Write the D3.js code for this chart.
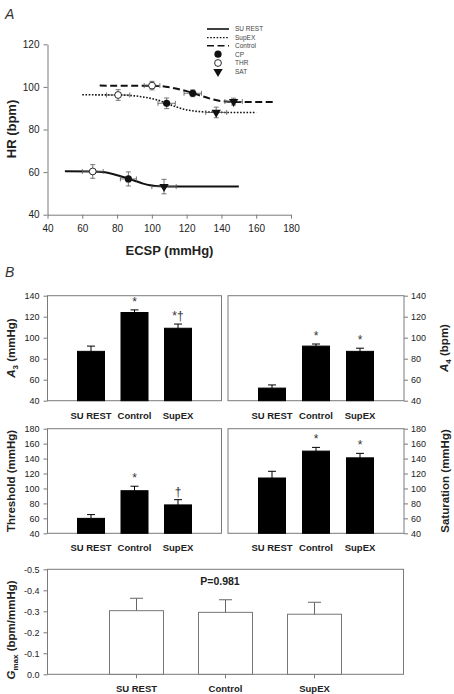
<!DOCTYPE html>
<html><head><meta charset="utf-8">
<script src="https://cdn.jsdelivr.net/npm/d3@7"></script>
<style>body{margin:0;background:#fff} svg{display:block;font-family:"Liberation Sans",Arial,sans-serif}</style>
</head><body><svg id="c" width="454" height="694"></svg>
<script>
// ---------- DATA ----------
const hrTicks = [40, 60, 80, 100, 120];
const ecspTicks = [40, 60, 80, 100, 120, 140, 160, 180];

// fitted curves (ECSP, HR)
const curveSuRestX = [50, 66, 72, 78, 83, 87, 91, 95, 99, 105, 115, 150];
const curveSuRestY = [60.4, 60.3, 60.0, 59.0, 57.8, 56.8, 55.7, 54.6, 53.8, 53.3, 53.2, 53.2];
const curveSupExX = [60, 80, 90, 97, 103, 108.5, 114, 119, 125, 132, 145, 160];
const curveSupExY = [96.3, 96.2, 95.8, 95.0, 93.9, 92.3, 90.6, 89.4, 88.6, 88.2, 88.0, 88.0];
const curveControlX = [70, 100, 108, 115, 120, 124, 128, 133, 138, 143, 150, 170];
const curveControlY = [100.6, 100.5, 100.1, 99.0, 98.0, 97.0, 95.9, 94.6, 93.6, 93.1, 92.9, 92.9];

// points: THR, CP, SAT
const pointTypes = ["THR", "CP", "SAT"];
const suRestPtX = [66, 86.5, 107];   const suRestPtY = [60.3, 56.8, 53.2];
const suRestXErr = [6, 4.6, 7];       const suRestYErr = [3.2, 3.3, 3.4];
const supExPtX = [80.6, 108.5, 137];  const supExPtY = [96.2, 92.3, 88.0];
const supExXErr = [6.7, 5, 6];        const supExYErr = [2.5, 2.5, 2.5];
const controlPtX = [100.1, 123.5, 147]; const controlPtY = [100.6, 97.0, 93.1];
const controlXErr = [4.5, 5, 5];      const controlYErr = [2, 1.6, 1.6];

const legendLabels = ["SU REST", "SupEX", "Control", "CP", "THR", "SAT"];

const groups = ["SU REST", "Control", "SupEX"];
const a3Values = [87, 124, 109];       const a3Err = [5, 2.5, 4];     const a3Marks = ["", "*", "*\u2020"];
const a4Values = [52, 92, 87];         const a4Err = [3, 2, 3];       const a4Marks = ["", "*", "*"];
const thrValues = [60, 97, 78];        const thrErr = [5, 6, 7];      const thrMarks = ["", "*", "\u2020"];
const satValues = [114, 150, 141];     const satErr = [9, 5, 6];      const satMarks = ["", "*", "*"];
const gmaxValues = [-0.303, -0.295, -0.286]; const gmaxErr = [0.059, 0.06, 0.057];
const ticks40to140 = [40, 60, 80, 100, 120, 140];
const ticks40to180 = [40, 60, 80, 100, 120, 140, 160, 180];
const gmaxTicks = [0, -0.1, -0.2, -0.3, -0.4, -0.5];
const gmaxTickLabels = ["0.0", "-0.1", "-0.2", "-0.3", "-0.4", "-0.5"];

// ---------- DRAW ----------
const svg = d3.select("#c");
const AX = "#7a7a7a", TXT = "#222";

function styleAxis(g, fs) {
  g.selectAll(".domain").attr("stroke", AX);
  g.selectAll(".tick line").attr("stroke", AX);
  g.selectAll(".tick text").attr("fill", TXT).attr("font-size", fs).attr("font-family", "Liberation Sans, Arial, sans-serif");
}

// Panel A
svg.append("text").attr("x", 5).attr("y", 19).attr("font-size", 14).attr("font-style", "italic").attr("fill", "#333").text("A");
const xA = d3.scaleLinear().domain([40, 180]).range([47.5, 291]);
const yA = d3.scaleLinear().domain([40, 120]).range([214.7, 44.3]);
svg.append("g").attr("transform", "translate(47.5,0)")
  .call(d3.axisLeft(yA).tickValues(hrTicks).tickSize(4).tickPadding(4).tickSizeOuter(0))
  .call(g => styleAxis(g, 10));
svg.append("g").attr("transform", "translate(0,214.7)")
  .call(d3.axisBottom(xA).tickValues(ecspTicks).tickSize(4).tickPadding(6).tickSizeOuter(0))
  .call(g => styleAxis(g, 10));
svg.append("text").attr("transform", "translate(16,129) rotate(-90)").attr("text-anchor", "middle")
  .attr("font-size", 13).attr("font-weight", "bold").attr("fill", TXT).text("HR (bpm)");
svg.append("text").attr("x", 169.5).attr("y", 255).attr("text-anchor", "middle")
  .attr("font-size", 13).attr("font-weight", "bold").attr("fill", TXT).text("ECSP (mmHg)");

const lineGen = d3.line().x(d => xA(d[0])).y(d => yA(d[1])).curve(d3.curveMonotoneX);
const styles = {
  solid: {w: 2, dash: null},
  dotted: {w: 1.6, dash: "1.6,1.6"},
  dashed: {w: 2, dash: "7,3.5"}
};
const series = [
  {cx: curveSuRestX, cy: curveSuRestY, px: suRestPtX, py: suRestPtY, ex: suRestXErr, ey: suRestYErr, st: "solid"},
  {cx: curveSupExX, cy: curveSupExY, px: supExPtX, py: supExPtY, ex: supExXErr, ey: supExYErr, st: "dotted"},
  {cx: curveControlX, cy: curveControlY, px: controlPtX, py: controlPtY, ex: controlXErr, ey: controlYErr, st: "dashed"}
];
function marker(g, type, x, y) {
  if (type === "THR") g.append("circle").attr("cx", x).attr("cy", y).attr("r", 3.4).attr("fill", "#fff").attr("stroke", "#111").attr("stroke-width", 0.9);
  else if (type === "CP") g.append("circle").attr("cx", x).attr("cy", y).attr("r", 3.6).attr("fill", "#111");
  else g.append("path").attr("d", d3.symbol(d3.symbolTriangle, 38)()).attr("transform", `translate(${x},${y}) rotate(180)`).attr("fill", "#111");
}
series.forEach(s => {
  const pts = s.cx.map((x, i) => [x, s.cy[i]]);
  const st = styles[s.st];
  svg.append("path").datum(pts).attr("d", lineGen).attr("fill", "none").attr("stroke", "#111")
    .attr("stroke-width", st.w).attr("stroke-dasharray", st.dash);
  const g = svg.append("g");
  s.px.forEach((x, i) => {
    const X = xA(x), Y = yA(s.py[i]);
    const x1 = xA(x - s.ex[i]), x2 = xA(x + s.ex[i]);
    const y1 = yA(s.py[i] - s.ey[i]), y2 = yA(s.py[i] + s.ey[i]);
    const eb = g.append("g").attr("stroke", "#555").attr("stroke-width", 0.8);
    eb.append("line").attr("x1", x1).attr("x2", x2).attr("y1", Y).attr("y2", Y);
    eb.append("line").attr("x1", x1).attr("x2", x1).attr("y1", Y - 2.5).attr("y2", Y + 2.5);
    eb.append("line").attr("x1", x2).attr("x2", x2).attr("y1", Y - 2.5).attr("y2", Y + 2.5);
    eb.append("line").attr("x1", X).attr("x2", X).attr("y1", y1).attr("y2", y2);
    eb.append("line").attr("x1", X - 2.5).attr("x2", X + 2.5).attr("y1", y1).attr("y2", y1);
    eb.append("line").attr("x1", X - 2.5).attr("x2", X + 2.5).attr("y1", y2).attr("y2", y2);
    marker(g, pointTypes[i], X, Y);
  });
});
// legend
const legY = [29, 37.7, 45.7, 54.2, 63, 71.7];
const leg = svg.append("g");
legendLabels.forEach((lab, i) => {
  const y = legY[i];
  if (i < 3) {
    const st = styles[["solid", "dotted", "dashed"][i]];
    leg.append("line").attr("x1", 207).attr("x2", 229).attr("y1", y).attr("y2", y).attr("stroke", "#111")
      .attr("stroke-width", st.w * 0.8).attr("stroke-dasharray", st.dash);
  } else {
    marker(leg, lab, 218, y);
  }
  leg.append("text").attr("x", 235).attr("y", y + 2.3).attr("font-size", 6.5).attr("fill", "#444").text(lab);
});

// Panel B
svg.append("text").attr("x", 5).attr("y", 277).attr("font-size", 14).attr("font-style", "italic").attr("fill", "#333").text("B");

function barPanel(o) {
  const x = d3.scalePoint().domain(groups).range([o.x0, o.x1]).padding(1);
  const y = d3.scaleLinear().domain(o.domain).range([o.yBot, o.yTop]);
  svg.append("rect").attr("x", o.x0).attr("y", o.yTop).attr("width", o.x1 - o.x0).attr("height", o.yBot - o.yTop)
    .attr("fill", "none").attr("stroke", AX).attr("stroke-width", 1);
  const ax = o.side === "left" ? d3.axisLeft(y) : d3.axisRight(y);
  ax.tickValues(o.ticks).tickSize(4).tickPadding(o.side === "left" ? 4 : 3).tickSizeOuter(0);
  if (o.tickLabels) ax.tickFormat((d, i) => o.tickLabels[i]);
  svg.append("g").attr("transform", `translate(${o.side === "left" ? o.x0 : o.x1},0)`).call(ax)
    .call(g => { styleAxis(g, o.tickFs); g.select(".domain").remove(); });
  const base = y(o.base);
  groups.forEach((gname, i) => {
    const cx = x(gname), v = o.values[i];
    const top = y(v);
    svg.append("rect").attr("x", cx - o.bw / 2).attr("y", Math.min(top, base)).attr("width", o.bw)
      .attr("height", Math.abs(base - top)).attr("fill", o.fill).attr("stroke", o.stroke).attr("stroke-width", 1);
    const ev = o.neg ? v - o.errs[i] : v + o.errs[i];
    const et = y(ev);
    svg.append("line").attr("x1", cx).attr("x2", cx).attr("y1", top).attr("y2", et).attr("stroke", o.ecol).attr("stroke-width", 1);
    svg.append("line").attr("x1", cx - o.cap / 2).attr("x2", cx + o.cap / 2).attr("y1", et).attr("y2", et).attr("stroke", o.ecol).attr("stroke-width", 1);
    if (o.marks && o.marks[i]) {
      svg.append("text").attr("x", cx).attr("y", et - 4).attr("text-anchor", "middle").attr("font-size", 12)
        .attr("fill", "#333").text(o.marks[i]);
    }
    if (o.catTicks) svg.append("line").attr("x1", cx).attr("x2", cx).attr("y1", o.yBot).attr("y2", o.yBot + 4).attr("stroke", AX);
    svg.append("text").attr("x", cx).attr("y", o.catY).attr("text-anchor", "middle").attr("font-size", 9.5)
      .attr("font-weight", "bold").attr("fill", TXT).text(gname);
  });
}
const blackOpts = {bw: 27, fill: "#000", stroke: "#000", ecol: "#000", cap: 8, tickFs: 9};
barPanel(Object.assign({}, blackOpts, {x0: 47.5, x1: 221.5, yTop: 295.7, yBot: 400.7, domain: [40, 140], ticks: ticks40to140,
  values: a3Values, errs: a3Err, marks: a3Marks, side: "left", base: 40, catY: 419}));
barPanel(Object.assign({}, blackOpts, {x0: 228, x1: 404, yTop: 295.7, yBot: 400.7, domain: [40, 140], ticks: ticks40to140,
  values: a4Values, errs: a4Err, marks: a4Marks, side: "right", base: 40, catY: 419}));
barPanel(Object.assign({}, blackOpts, {x0: 47.5, x1: 221.5, yTop: 428.7, yBot: 533.3, domain: [40, 180], ticks: ticks40to180,
  values: thrValues, errs: thrErr, marks: thrMarks, side: "left", base: 40, catY: 551}));
barPanel(Object.assign({}, blackOpts, {x0: 228, x1: 404, yTop: 428.7, yBot: 533.3, domain: [40, 180], ticks: ticks40to180,
  values: satValues, errs: satErr, marks: satMarks, side: "right", base: 40, catY: 551}));
barPanel({x0: 47.5, x1: 403.5, yTop: 569.3, yBot: 674.3, domain: [0, -0.5], ticks: gmaxTicks, tickLabels: gmaxTickLabels,
  values: gmaxValues, errs: gmaxErr, side: "left", base: 0, neg: true, bw: 54, fill: "#fff", stroke: "#777", ecol: "#666",
  cap: 13, tickFs: 9, catY: 692, catTicks: true});
svg.append("text").attr("x", 220).attr("y", 585).attr("text-anchor", "middle").attr("font-size", 10.5)
  .attr("font-weight", "bold").attr("fill", TXT).text("P=0.981");

// y labels panel B
function rotLabel(cx, cy, parts) {
  const t = svg.append("text").attr("transform", `translate(${cx},${cy}) rotate(-90)`).attr("text-anchor", "middle")
    .attr("font-size", 11.5).attr("font-weight", "bold").attr("fill", TXT);
  parts.forEach(p => {
    const s = t.append("tspan").text(p.t);
    if (p.it) s.attr("font-style", "italic");
    if (p.sub) s.attr("font-size", 8).attr("dy", 3);
    if (p.after) s.attr("dy", -3);
  });
}
rotLabel(15, 348, [{t: "A", it: true}, {t: "3", sub: true}, {t: " (mmHg)", after: true}]);
rotLabel(15, 481, [{t: "Threshold (mmHg)"}]);
rotLabel(448, 348, [{t: "A", it: true}, {t: "4", sub: true}, {t: " (bpm)", after: true}]);
rotLabel(449, 481, [{t: "Saturation (mmHg)"}]);
rotLabel(15, 630, [{t: "G", it: true}, {t: "max", sub: true}, {t: " (bpm/mmHg)", after: true}]);
</script></body></html>
